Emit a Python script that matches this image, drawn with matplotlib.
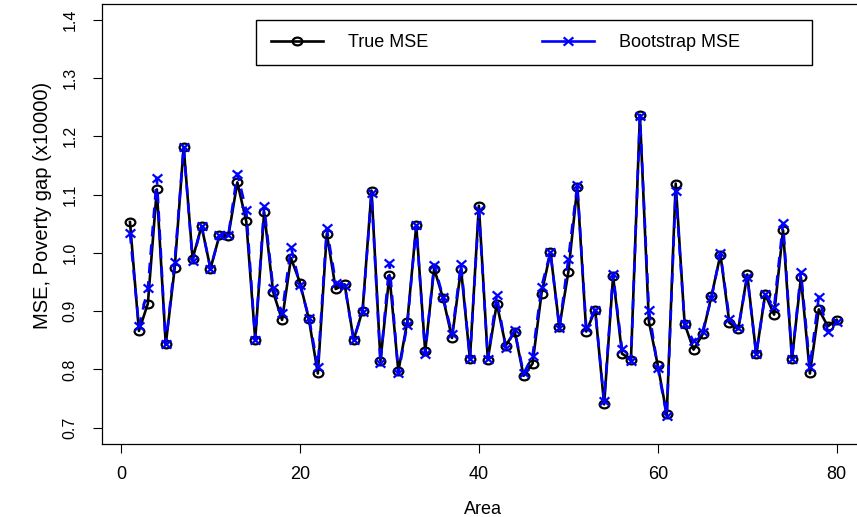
import matplotlib
matplotlib.use("Agg")
import matplotlib.pyplot as plt
from matplotlib.patches import Rectangle
from matplotlib.path import Path
import numpy as np

plt.rcParams["font.family"] = ["Liberation Sans", "DejaVu Sans"]

# values, areas 1..80
area = np.arange(1, 81)
true_mse = [
    1.053, 0.866, 0.913, 1.109, 0.843, 0.974, 1.182, 0.990, 1.046, 0.973,
    1.030, 1.029, 1.121, 1.054, 0.851, 1.070, 0.933, 0.885, 0.991, 0.949,
    0.886, 0.793, 1.033, 0.938, 0.946, 0.851, 0.901, 1.107, 0.815, 0.962,
    0.797, 0.882, 1.047, 0.831, 0.973, 0.922, 0.854, 0.973, 0.818, 1.081,
    0.817, 0.913, 0.841, 0.865, 0.789, 0.810, 0.930, 1.001, 0.873, 0.967,
    1.113, 0.865, 0.902, 0.740, 0.960, 0.827, 0.817, 1.237, 0.883, 0.807,
    0.723, 1.119, 0.878, 0.834, 0.860, 0.926, 0.997, 0.880, 0.869, 0.963,
    0.826, 0.929, 0.894, 1.039, 0.818, 0.958, 0.793, 0.903, 0.874, 0.885,
]
boot_mse = [
    1.034, 0.874, 0.939, 1.129, 0.843, 0.984, 1.182, 0.986, 1.046, 0.973,
    1.030, 1.031, 1.136, 1.073, 0.851, 1.080, 0.940, 0.897, 1.010, 0.945,
    0.889, 0.804, 1.042, 0.949, 0.944, 0.851, 0.899, 1.102, 0.811, 0.983,
    0.793, 0.877, 1.047, 0.827, 0.980, 0.924, 0.860, 0.981, 0.818, 1.073,
    0.818, 0.927, 0.837, 0.867, 0.793, 0.823, 0.942, 1.001, 0.871, 0.990,
    1.117, 0.871, 0.902, 0.746, 0.963, 0.835, 0.815, 1.235, 0.902, 0.803,
    0.720, 1.107, 0.878, 0.848, 0.865, 0.923, 0.999, 0.887, 0.871, 0.959,
    0.826, 0.929, 0.907, 1.051, 0.818, 0.967, 0.804, 0.925, 0.865, 0.881,
]
xticks = [0, 20, 40, 60, 80]
yticks = [0.7, 0.8, 0.9, 1.0, 1.1, 1.2, 1.3, 1.4]

# the reference is a bit stretched sideways, so markers are slightly flat
circ = Path(Path.unit_circle().vertices * [1.0, 0.8], Path.unit_circle().codes)
cross = Path([(-1, -0.85), (1, 0.85), (-1, 0.85), (1, -0.85)],
             [Path.MOVETO, Path.LINETO, Path.MOVETO, Path.LINETO])

fig = plt.figure(figsize=(8.57, 5.17), dpi=100)
W, H = 857, 517
left, right, top, bottom = 101.7, 865, 3.5, 444
ax = fig.add_axes([left / W, 1 - bottom / H, (right - left) / W, (bottom - top) / H])

ax.plot(area, true_mse, color="black", lw=1.9, marker=circ, ms=7.0,
        mfc="none", mec="black", mew=1.6, label="True MSE", zorder=3)
ax.plot(area, boot_mse, color="#0000ff", lw=1.9, ls=(0, (4, 3)), marker=cross,
        ms=7.0, mfc="none", mec="#0000ff", mew=1.6, label="Bootstrap MSE", zorder=4)

# R-style 4% padding around data range
xr = 79 * 0.04
ax.set_xlim(1 - xr, 80 + xr)
ax.set_ylim(0.7 - 0.028, 1.4 + 0.028)
ax.set_xticks(xticks)
ax.set_yticks(yticks)
ax.set_yticklabels([f"{v:.1f}" for v in yticks], rotation=90, va="center")
ax.tick_params(direction="out", length=6.5, width=0.8, pad=9)
ax.tick_params(axis="x", labelsize=13)
ax.tick_params(axis="y", pad=11, labelsize=11.5)
for s in ax.spines.values():
    s.set_linewidth(0.9)

ax.set_xlabel("Area", fontsize=13, va="baseline")
ax.set_ylabel("MSE, Poverty gap (x10000)", fontsize=14.5, va="center")
ax.xaxis.set_label_coords((483 - left) / (right - left), (bottom - 514) / (bottom - top))
ax.yaxis.set_label_coords((42 - left) / (right - left), (bottom - 205) / (bottom - top))

fs = 13 * 100 / 72
leg = ax.legend(loc="center left", ncol=2, frameon=False, borderpad=0,
                bbox_to_anchor=((262 - left) / (right - left), (bottom - 42.7) / (bottom - top)),
                handlelength=52 / fs, handletextpad=25 / fs, columnspacing=114 / fs,
                fontsize=13)
for ln in leg.get_lines():
    ln.set_linestyle("-")
ax.add_patch(Rectangle(((255.7 - left) / (right - left), (bottom - 65) / (bottom - top)),
                       (811.7 - 255.7) / (right - left), 45 / (bottom - top),
                       transform=ax.transAxes, fill=False, ec="black", lw=1.0,
                       zorder=5, clip_on=False))

fig.savefig("out.png", dpi=100)
